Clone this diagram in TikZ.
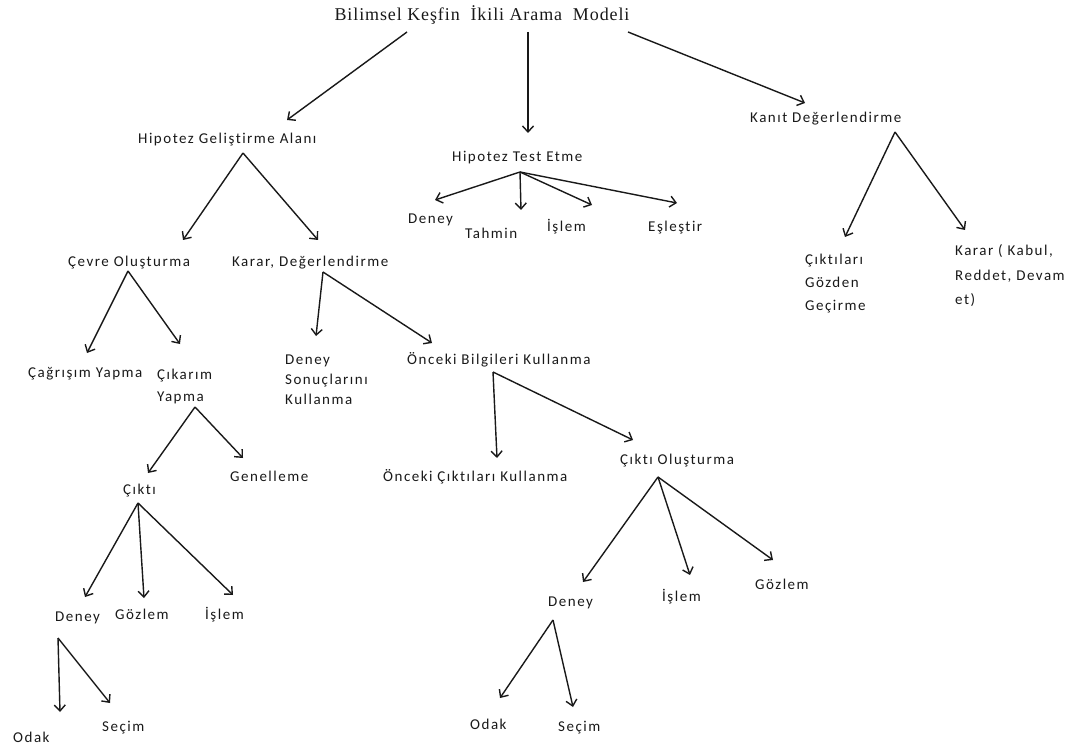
\documentclass[tikz,border=0pt]{standalone}
\usepackage{fontspec}
\usepackage{tikz}
\usetikzlibrary{arrows.meta,calc}
\newfontfamily\lblfont[LetterSpace=10,Ligatures=CommonOff]{Carlito}
\newfontfamily\titlefont[LetterSpace=5]{Liberation Serif}
\definecolor{inkGray}{RGB}{25,25,25}

\tikzset{
  lbl/.style={font=\lblfont\fontsize{15}{23}\selectfont, text=inkGray, inner sep=0pt, anchor=base west, align=left},
  arr/.style={-{Straight Barb[length=6pt,width=11pt]}, line width=1.4pt, draw=inkGray},
}

\begin{document}
\begin{tikzpicture}[x=1pt,y=-1pt]
  \useasboundingbox (0,0) rectangle (1081,751);

  % title
  \node[font=\titlefont\fontsize{18}{22}\selectfont, text=inkGray, inner sep=0pt, anchor=base] (title) at (482,21) {Bilimsel Keşfin\ \ İkili Arama\ \ Modeli};

  % three branches
  \node[lbl] (hga) at (138,144) {Hipotez Geliştirme Alanı};
  \node[lbl] (hte) at (452,162) {Hipotez Test Etme};
  \node[lbl] (kanit) at (750,123) {Kanıt Değerlendirme};

  % hipotez test etme
  \node[lbl] (hDeney) at (408,224) {Deney};
  \node[lbl] (hTahmin) at (465,239) {Tahmin};
  \node[lbl] (hIslem) at (547,232) {İşlem};
  \node[lbl] (hEsles) at (648,232) {Eşleştir};

  % kanit degerlendirme (multi-line nodes sit on their last line)
  \node[lbl] (kGozden) at (805,310) {Çıktıları\\Gözden\\Geçirme};
  \node[lbl] (kKarar) at (955,304) {Karar ( Kabul,\\[1pt]Reddet, Devam\\[1pt]et)};

  % hipotez gelistirme alani
  \node[lbl] (cevre) at (68,267) {Çevre Oluşturma};
  \node[lbl] (karar) at (232,266) {Karar,\ Değerlendirme};
  \node[lbl] (cagrisim) at (28,377) {Çağrışım Yapma};
  \node[lbl] (cikarim) at (157,401) {Çıkarım\\[-1pt]Yapma};
  \node[lbl] (dSonuc) at (285,404) {Deney\\[-3pt]Sonuçlarını\\[-3pt]Kullanma};
  \node[lbl] (onceki) at (407,364) {Önceki Bilgileri Kullanma};
  \node[lbl] (cikti) at (123,494) {Çıktı};
  \node[lbl] (genel) at (230,481) {Genelleme};
  \node[lbl] (oCikti) at (383,481) {Önceki Çıktıları Kullanma};
  \node[lbl] (ciktiOl) at (620,464) {Çıktı Oluşturma};

  \node[lbl] (lDeney) at (55,621) {Deney};
  \node[lbl] (lGozlem) at (115,619) {Gözlem};
  \node[lbl] (lIslem) at (205,619) {İşlem};
  \node[lbl] (lOdak) at (13,742) {Odak};
  \node[lbl] (lSecim) at (102,731) {Seçim};

  \node[lbl] (rDeney) at (548,606) {Deney};
  \node[lbl] (rIslem) at (662,601) {İşlem};
  \node[lbl] (rGozlem) at (755,589) {Gözlem};
  \node[lbl] (rOdak) at (470,729) {Odak};
  \node[lbl] (rSecim) at (558,731) {Seçim};

  % arrows
  \draw[arr] ($(title.base)+(-75,11)$) -- ($(hga.base west)+(149,-24)$);
  \draw[arr] ($(title.base)+(46,11)$) -- ($(hte.base west)+(76,-29)$);
  \draw[arr] ($(title.base)+(146,11)$) -- ($(kanit.base west)+(55,-20)$);

  \draw[arr] ($(hte.base west)+(68,10)$) -- ($(hDeney.base west)+(27,-24)$);
  \draw[arr] ($(hte.base west)+(68,10)$) -- ($(hTahmin.base west)+(56,-29)$);
  \draw[arr] ($(hte.base west)+(68,10)$) -- ($(hIslem.base west)+(45,-27)$);
  \draw[arr] ($(hte.base west)+(68,10)$) -- ($(hEsles.base west)+(29,-29)$);

  \draw[arr] ($(kanit.base west)+(145,9)$) -- ($(kGozden.base west)+(40,-73)$);
  \draw[arr] ($(kanit.base west)+(145,9)$) -- ($(kKarar.base west)+(10,-74)$);

  \draw[arr] ($(hga.base west)+(105,9)$) -- ($(cevre.base west)+(115,-27)$);
  \draw[arr] ($(hga.base west)+(105,9)$) -- ($(karar.base west)+(86,-26)$);

  \draw[arr] ($(cevre.base west)+(60,4)$) -- ($(cagrisim.base west)+(59,-24)$);
  \draw[arr] ($(cevre.base west)+(60,4)$) -- ($(cikarim.base west)+(23,-57)$);

  \draw[arr] ($(karar.base west)+(91,6)$) -- ($(dSonuc.base west)+(31,-68)$);
  \draw[arr] ($(karar.base west)+(91,6)$) -- ($(onceki.base west)+(25,-21)$);

  \draw[arr] ($(cikarim.base west)+(38,6)$) -- ($(cikti.base west)+(25,-21)$);
  \draw[arr] ($(cikarim.base west)+(38,6)$) -- ($(genel.base west)+(13,-23)$);

  \draw[arr] ($(onceki.base west)+(86,8)$) -- ($(oCikti.base west)+(114,-23)$);
  \draw[arr] ($(onceki.base west)+(86,8)$) -- ($(ciktiOl.base west)+(13,-24)$);

  \draw[arr] ($(cikti.base west)+(15,9)$) -- ($(lDeney.base west)+(30,-24)$);
  \draw[arr] ($(cikti.base west)+(15,9)$) -- ($(lGozlem.base west)+(29,-21)$);
  \draw[arr] ($(cikti.base west)+(15,9)$) -- ($(lIslem.base west)+(28,-24)$);

  \draw[arr] ($(lDeney.base west)+(3,17)$) -- ($(lOdak.base west)+(47,-30)$);
  \draw[arr] ($(lDeney.base west)+(3,17)$) -- ($(lSecim.base west)+(8,-28)$);

  \draw[arr] ($(ciktiOl.base west)+(38,13)$) -- ($(rDeney.base west)+(35,-24)$);
  \draw[arr] ($(ciktiOl.base west)+(38,13)$) -- ($(rIslem.base west)+(28,-26)$);
  \draw[arr] ($(ciktiOl.base west)+(38,13)$) -- ($(rGozlem.base west)+(18,-29)$);

  \draw[arr] ($(rDeney.base west)+(5,14)$) -- ($(rOdak.base west)+(30,-31)$);
  \draw[arr] ($(rDeney.base west)+(5,14)$) -- ($(rSecim.base west)+(15,-24)$);
\end{tikzpicture}
\end{document}
